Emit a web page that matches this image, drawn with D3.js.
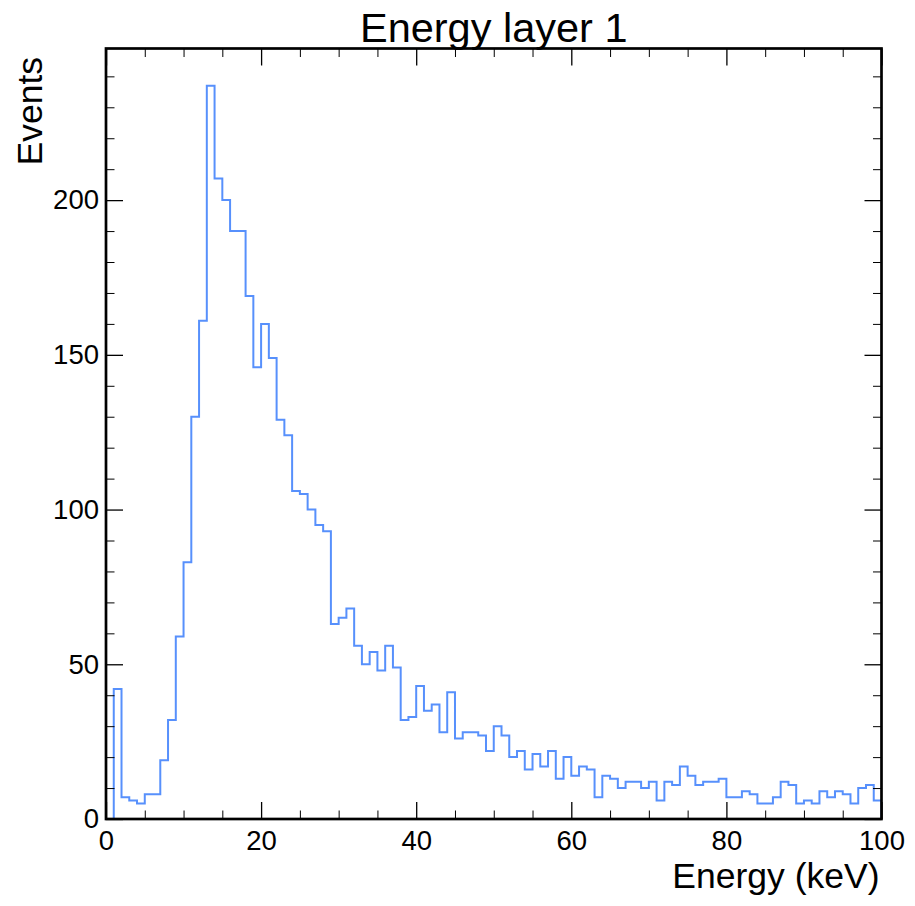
<!DOCTYPE html>
<html>
<head>
<meta charset="utf-8">
<script src="https://cdn.jsdelivr.net/npm/d3@7/dist/d3.min.js"></script>
<style>
  html, body { margin: 0; padding: 0; background: #fff; }
  svg { display: block; }
  text { font-family: "Liberation Sans", Arial, Helvetica, sans-serif; fill: #000; }
</style>
</head>
<body>
<svg id="chart" width="915" height="906"></svg>
<script>
// ---- data (1 keV bins from 0 to 100) ----
const binEdgesStart = 0;
const binWidth = 1;
const counts = [
  0, 42, 7, 6, 5, 8, 8, 19, 32, 59,
  83, 130, 161, 237, 207, 200, 190, 190, 169, 146,
  160, 149, 129, 124, 106, 105, 100, 95, 93, 63,
  65, 68, 56, 50, 54, 48, 56, 49, 32, 33,
  43, 35, 37, 28, 41, 26, 28, 28, 27, 22,
  30, 27, 20, 22, 16, 21, 17, 22, 13, 20,
  14, 17, 16, 7, 14, 13, 10, 12, 12, 10,
  12, 6, 12, 11, 17, 14, 11, 12, 12, 13,
  7, 7, 9, 8, 5, 5, 7, 12, 11, 5,
  6, 5, 9, 7, 9, 8, 5, 10, 11, 6
];
const xMajorTicks = [0, 20, 40, 60, 80, 100];
const xMinorTicks = [5, 10, 15, 25, 30, 35, 45, 50, 55, 65, 70, 75, 85, 90, 95];
const yMajorTicks = [0, 50, 100, 150, 200];
const yMinorTicks = [10, 20, 30, 40, 60, 70, 80, 90, 110, 120, 130, 140, 160, 170, 180, 190, 210, 220, 230, 240];
const titleText = "Energy layer 1";
const xLabel = "Energy (keV)";
const yLabel = "Events";

// ---- layout ----
const L = 106, R = 881.5, T = 48.5, B = 819;
const svg = d3.select("#chart");

const x = d3.scaleLinear().domain([0, 100]).range([L, R]);
const y = d3.scaleLinear().domain([0, 249]).range([B, T]);

// clip
svg.append("defs").append("clipPath").attr("id", "clip")
  .append("rect").attr("x", L).attr("y", T).attr("width", R - L).attr("height", B - T);

// histogram step path
const pts = [];
pts.push([binEdgesStart, 0]);
counts.forEach((c, i) => {
  const x0 = binEdgesStart + i * binWidth;
  pts.push([x0, c]);
  pts.push([x0 + binWidth, c]);
});
pts.push([binEdgesStart + counts.length * binWidth, 0]);

const line = d3.line().x(d => x(d[0])).y(d => y(d[1]));
svg.append("path")
  .attr("clip-path", "url(#clip)")
  .attr("d", line(pts))
  .attr("fill", "none")
  .attr("stroke", "#5790fc")
  .attr("stroke-width", 2)
  .attr("stroke-linejoin", "miter");

// axes
function styleAxis(g, w) {
  g.select(".domain").remove();
  g.selectAll("line").attr("stroke", "#000").attr("stroke-width", w);
}
const fontTick = 27.5;

// bottom major
svg.append("g").attr("transform", `translate(0,${B})`)
  .call(d3.axisBottom(x).tickValues(xMajorTicks).tickSize(-17).tickPadding(11.5).tickFormat(d3.format("d")))
  .call(g => styleAxis(g, 1.3))
  .call(g => g.selectAll("text").attr("font-size", fontTick).attr("font-family", null));
// bottom minor
svg.append("g").attr("transform", `translate(0,${B})`)
  .call(d3.axisBottom(x).tickValues(xMinorTicks).tickSize(-8.5).tickFormat(""))
  .call(g => styleAxis(g, 1));
// top major/minor
svg.append("g").attr("transform", `translate(0,${T})`)
  .call(d3.axisTop(x).tickValues(xMajorTicks).tickSize(-17).tickFormat(""))
  .call(g => styleAxis(g, 1.3));
svg.append("g").attr("transform", `translate(0,${T})`)
  .call(d3.axisTop(x).tickValues(xMinorTicks).tickSize(-8.5).tickFormat(""))
  .call(g => styleAxis(g, 1));
// left major
svg.append("g").attr("transform", `translate(${L},0)`)
  .call(d3.axisLeft(y).tickValues(yMajorTicks).tickSize(-17).tickPadding(7).tickFormat(d3.format("d")))
  .call(g => styleAxis(g, 1.3))
  .call(g => g.selectAll("text").attr("font-size", fontTick).attr("font-family", null));
svg.append("g").attr("transform", `translate(${L},0)`)
  .call(d3.axisLeft(y).tickValues(yMinorTicks).tickSize(-8.5).tickFormat(""))
  .call(g => styleAxis(g, 1));
// right
svg.append("g").attr("transform", `translate(${R},0)`)
  .call(d3.axisRight(y).tickValues(yMajorTicks).tickSize(-17).tickFormat(""))
  .call(g => styleAxis(g, 1.3));
svg.append("g").attr("transform", `translate(${R},0)`)
  .call(d3.axisRight(y).tickValues(yMinorTicks).tickSize(-8.5).tickFormat(""))
  .call(g => styleAxis(g, 1));

// frame
svg.append("rect")
  .attr("x", L).attr("y", T).attr("width", R - L).attr("height", B - T)
  .attr("fill", "none").attr("stroke", "#000").attr("stroke-width", 2.7);

// title
svg.append("text")
  .attr("x", (L + R) / 2).attr("y", 41.5)
  .attr("text-anchor", "middle")
  .attr("font-size", 41.5)
  .text(titleText);

// x label
svg.append("text")
  .attr("x", 879.5).attr("y", 888)
  .attr("text-anchor", "end")
  .attr("font-size", 35.5)
  .text(xLabel);

// y label
svg.append("text")
  .attr("transform", `translate(41.5,57) rotate(-90)`)
  .attr("text-anchor", "end")
  .attr("font-size", 35.5)
  .text(yLabel);
</script>
</body>
</html>
